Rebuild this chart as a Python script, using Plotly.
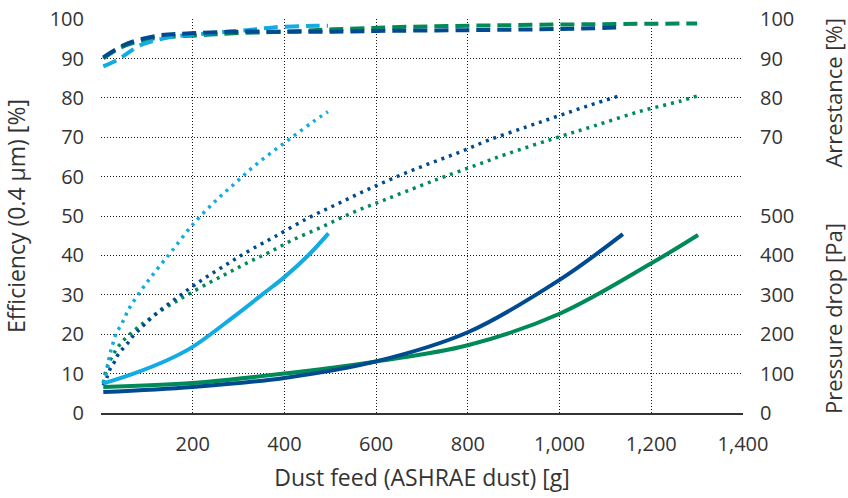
import plotly.graph_objects as go

# ---------------- data ----------------
x_ticks = [200, 400, 600, 800, 1000, 1200, 1400]
x_tick_labels = ["200", "400", "600", "800", "1,000", "1,200", "1,400"]
x_grid = [200, 400, 600, 800, 1000, 1200]
left_ticks = [0, 10, 20, 30, 40, 50, 60, 70, 80, 90, 100]
right_ticks = [0, 10, 20, 30, 40, 50, 70, 80, 90, 100]
right_tick_labels = ["0", "100", "200", "300", "400", "500", "70", "80", "90", "100"]

# Efficiency (0.4 um) [%] - dotted
eff_lb_x = [5, 9, 13, 15, 18, 22, 27, 33, 42, 51, 58, 67, 88, 109, 132, 153, 202, 253, 293, 332, 376, 420, 463, 495]
eff_lb_y = [7.5, 8.7, 10.8, 12.1, 14.1, 16.1, 18.0, 20.2, 22.0, 24.0, 25.8, 27.6, 31.2, 34.5, 37.9, 40.9, 48.1, 54.2, 58.4, 62.5, 66.5, 70.3, 74.0, 76.5]
eff_db_x = [5, 13, 20, 29, 36, 48, 60, 71, 84, 96, 122, 151, 180, 209, 239, 271, 300, 332, 378, 450, 514, 579, 645, 711, 777, 844, 929, 997, 1065, 1135]
eff_db_y = [7.0, 9.1, 11.2, 12.9, 14.6, 16.4, 18.0, 19.7, 21.2, 22.6, 25.4, 28.0, 30.5, 32.9, 35.2, 37.5, 39.6, 41.8, 44.7, 49.4, 53.0, 56.6, 60.0, 63.1, 66.0, 69.2, 72.7, 75.4, 78.1, 80.7]
eff_gr_x = [5, 12, 19, 27, 36, 48, 61, 75, 87, 102, 131, 162, 193, 238, 271, 302, 334, 367, 414, 481, 549, 616, 699, 749, 817, 886, 988, 1073, 1176, 1264, 1300]
eff_gr_y = [7.6, 11.3, 13.1, 14.9, 16.6, 18.3, 19.8, 21.2, 22.4, 23.6, 26.0, 28.2, 30.3, 33.2, 35.2, 37.1, 39.0, 40.8, 43.7, 47.2, 50.9, 54.0, 57.8, 60.0, 62.9, 65.8, 69.7, 72.8, 76.6, 79.2, 80.5]

# Arrestance [%] - dashed
arr_lb_x = [5, 38, 86, 122, 166, 216, 318, 376, 470, 495]
arr_lb_y = [88.0, 89.8, 93.4, 94.7, 95.7, 96.2, 97.2, 97.9, 98.3, 98.3]
arr_db_x = [5, 57, 129, 195, 289, 398, 507, 600, 800, 1000, 1136]
arr_db_y = [90.3, 93.8, 95.9, 96.4, 96.8, 96.8, 96.8, 97.0, 97.2, 97.5, 97.9]
arr_gr_x = [5, 38, 78, 129, 216, 289, 398, 507, 652, 849, 1067, 1300]
arr_gr_y = [90.0, 92.5, 94.2, 95.3, 95.9, 96.4, 96.8, 97.4, 98.0, 98.4, 98.7, 98.9]

# Pressure drop [Pa] - solid
dp_lb_x = [5, 71, 144, 200, 289, 354, 400, 456, 496]
dp_lb_y = [75, 100, 134, 168, 244, 303, 345, 405, 456]
dp_db_x = [5, 200, 400, 600, 800, 1000, 1138]
dp_db_y = [53, 66, 89, 131, 205, 338, 454]
dp_gr_x = [5, 200, 400, 600, 800, 1000, 1200, 1302]
dp_gr_y = [66, 76, 100, 131, 172, 252, 380, 452]

LB = "#12ABE3"
DB = "#004A8F"
GR = "#008A58"
TXT = "#333333"
FONT = "Open Sans"

fig = go.Figure()

for xs, ys, c, n in [(dp_gr_x, dp_gr_y, GR, "Pressure drop (green)"),
                     (dp_lb_x, dp_lb_y, LB, "Pressure drop (light blue)"),
                     (dp_db_x, dp_db_y, DB, "Pressure drop (dark blue)")]:
    fig.add_trace(go.Scatter(x=xs, y=ys, mode="lines", name=n, yaxis="y3",
                             line=dict(color=c, width=4, shape="spline")))

for xs, ys, c, n in [(eff_gr_x, eff_gr_y, GR, "Efficiency (green)"),
                     (eff_db_x, eff_db_y, DB, "Efficiency (dark blue)"),
                     (eff_lb_x, eff_lb_y, LB, "Efficiency (light blue)")]:
    fig.add_trace(go.Scatter(x=xs, y=ys, mode="lines", name=n, yaxis="y",
                             line=dict(color=c, width=3.5, dash="3px,5px", shape="spline")))

for xs, ys, c, n in [(arr_gr_x, arr_gr_y, GR, "Arrestance (green)"),
                     (arr_lb_x, arr_lb_y, LB, "Arrestance (light blue)"),
                     (arr_db_x, arr_db_y, DB, "Arrestance (dark blue)")]:
    fig.add_trace(go.Scatter(x=xs, y=ys, mode="lines", name=n, yaxis="y2",
                             line=dict(color=c, width=4, dash="14px,7px", shape="spline")))

grid = dict(showgrid=True, gridcolor="#1a1a1a", gridwidth=1, griddash="1px,2px")
TICK = 20
TITLE = 23

fig.update_layout(
    width=848, height=498, autosize=False,
    margin=dict(l=101, r=105, t=19, b=85, autoexpand=False),
    paper_bgcolor="white", plot_bgcolor="white",
    showlegend=False,
    font=dict(family=FONT, color=TXT, size=TICK),
    xaxis=dict(range=[0, 1400], tickmode="array", tickvals=x_ticks, ticktext=x_tick_labels,
               automargin=False, ticklabeloverflow="allow",
               showgrid=False, zeroline=False, showline=True, linecolor="#333333", linewidth=1.5,
               ticks="outside", ticklen=12, tickcolor="rgba(0,0,0,0)",
               tickfont=dict(size=TICK, color=TXT),
               minor=dict(tickmode="array", tickvals=x_grid, ticks="", **grid),
               title=dict(text="Dust feed (ASHRAE dust) [g]", font=dict(size=TITLE, color=TXT), standoff=14)),
    yaxis=dict(range=[0, 100.03], tickmode="array", tickvals=left_ticks, zeroline=False,
               automargin=False, ticklabeloverflow="allow",
               ticks="outside", ticklen=12, tickcolor="rgba(0,0,0,0)",
               tickfont=dict(size=TICK, color=TXT), **grid,
               title=dict(text="Efficiency (0.4 µm) [%]", font=dict(size=TITLE, color=TXT), standoff=23)),
    yaxis2=dict(range=[0, 100.03], overlaying="y", side="right", tickmode="array",
                automargin=False, ticklabeloverflow="allow",
                tickvals=right_ticks, ticktext=right_tick_labels, showgrid=False, zeroline=False,
                ticks="outside", ticklen=12, tickcolor="rgba(0,0,0,0)",
                tickfont=dict(size=TICK, color=TXT)),
    yaxis3=dict(range=[0, 1000.3], overlaying="y", visible=False, automargin=False),
    annotations=[
        dict(text="Arrestance [%]", xref="paper", yref="paper", x=1.141, y=0.812,
             xanchor="center", yanchor="middle", textangle=-90, showarrow=False,
             font=dict(size=22, color=TXT)),
        dict(text="Pressure drop [Pa]", xref="paper", yref="paper", x=1.141, y=0.24,
             xanchor="center", yanchor="middle", textangle=-90, showarrow=False,
             font=dict(size=22, color=TXT)),
    ],
)

# remove the browser's default 8px body margin so the figure fills the window exactly
fig.write_html("out.html",
               config={"displayModeBar": False},
               post_script="document.body.style.margin='0';document.body.style.overflow='hidden';")
